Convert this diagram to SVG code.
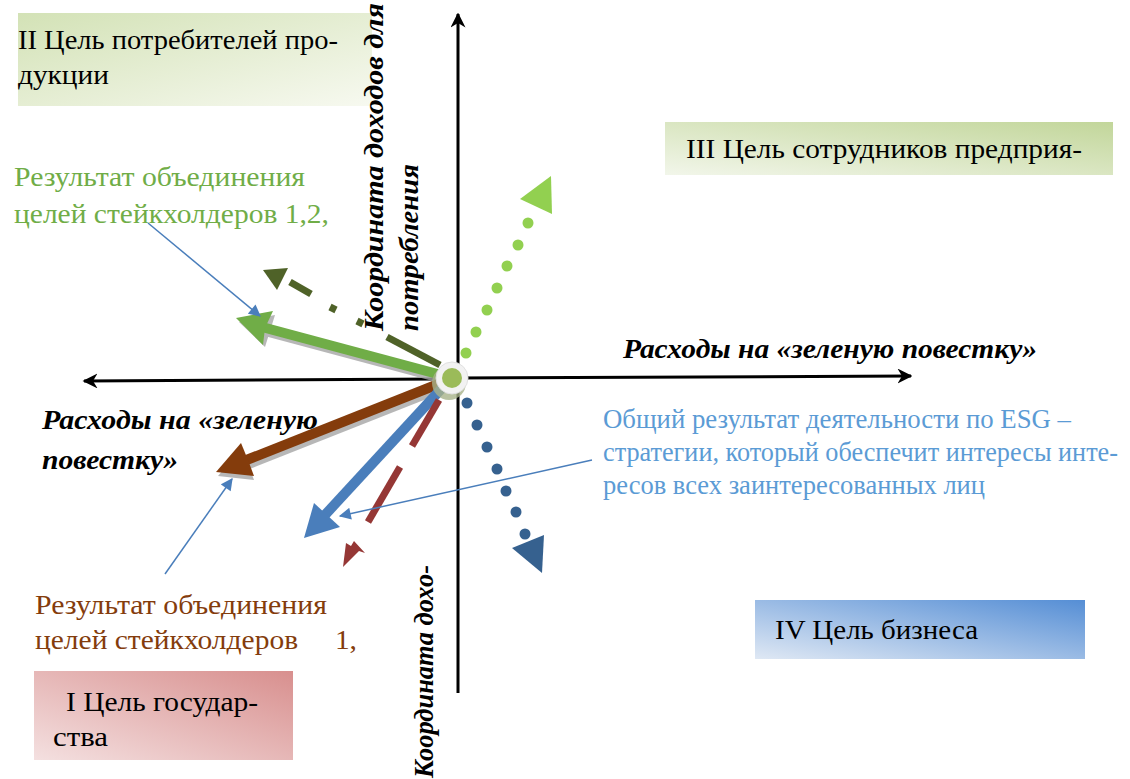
<svg xmlns="http://www.w3.org/2000/svg" width="1130" height="779" viewBox="0 0 1130 779">
<defs>
<linearGradient id="gII" x1="0" y1="0" x2="1" y2="1"><stop offset="0" stop-color="#d3e2b6"/><stop offset="1" stop-color="#f7f9f0"/></linearGradient>
<linearGradient id="gIII" x1="0" y1="1" x2="1" y2="0"><stop offset="0" stop-color="#f2f6ea"/><stop offset="1" stop-color="#c2d69a"/></linearGradient>
<linearGradient id="gI" x1="0" y1="1" x2="1" y2="0"><stop offset="0" stop-color="#f4e0e0"/><stop offset="1" stop-color="#d88f8e"/></linearGradient>
<linearGradient id="gIV" x1="0" y1="1" x2="1" y2="0"><stop offset="0" stop-color="#dfe8f4"/><stop offset="1" stop-color="#558ed5"/></linearGradient>
<marker id="ax" viewBox="0 0 10 10" refX="9" refY="5" markerWidth="5" markerHeight="5" orient="auto" markerUnits="strokeWidth"><path d="M0,0 L10,5 L0,10 L3,5 Z" fill="#000"/></marker>
<marker id="thin" viewBox="0 0 10 10" refX="9" refY="5" markerWidth="9" markerHeight="8" orient="auto" markerUnits="strokeWidth"><path d="M0,0 L10,5 L0,10 Z" fill="#4a7ebb"/></marker>
</defs>
<style>
.t{font-family:"Liberation Serif","Times New Roman",serif;font-size:28px;fill:#000}
.b{font-family:"Liberation Serif","Times New Roman",serif;font-size:26.5px;fill:#5b9bd5}
.bi{font-family:"Liberation Serif","Times New Roman",serif;font-size:28px;font-weight:bold;font-style:italic;fill:#000}
.g{fill:#70ad47}
.br{fill:#843c0c}
.axis{stroke:#000;stroke-width:3;fill:none}
.thin{stroke:#4a7ebb;stroke-width:1.5;fill:none}
.sh{fill:#a6a6a6;stroke:#a6a6a6;opacity:0.8}
</style>
<rect width="1130" height="779" fill="#fff"/>

<g id="boxII"><rect x="18" y="13" width="354" height="93" fill="url(#gII)"/>
<text class="t" x="18" y="49" textLength="320" lengthAdjust="spacingAndGlyphs">II Цель потребителей про-</text><text class="t" x="18" y="84" textLength="91" lengthAdjust="spacingAndGlyphs">дукции</text></g>
<g id="boxIII"><rect x="665" y="122" width="448" height="53" fill="url(#gIII)"/>
<text class="t" x="686" y="158" textLength="396" lengthAdjust="spacingAndGlyphs">III Цель сотрудников предприя-</text></g>
<g id="boxI"><rect x="34" y="671" width="259" height="89" fill="url(#gI)"/>
<text class="t" x="66" y="711" textLength="192" lengthAdjust="spacingAndGlyphs">I Цель государ-</text><text class="t" x="53" y="746" textLength="55" lengthAdjust="spacingAndGlyphs">ства</text></g>
<g id="boxIV"><rect x="755" y="600" width="330" height="59" fill="url(#gIV)"/>
<text class="t" x="775" y="639" textLength="203" lengthAdjust="spacingAndGlyphs">IV Цель бизнеса</text></g>

<g id="axes">
<line class="axis" x1="458" y1="693" x2="458" y2="14" marker-end="url(#ax)"/>
<line class="axis" x1="440" y1="379" x2="84" y2="381" marker-end="url(#ax)"/>
<line class="axis" x1="458" y1="378" x2="911" y2="376" marker-end="url(#ax)"/>
</g>

<g id="connectors">
<g stroke="#4f6228" stroke-width="7" fill="#4f6228">
<line x1="440" y1="365" x2="387" y2="337"/>
<line x1="363" y1="324" x2="357" y2="321"/>
<line x1="336" y1="310" x2="330" y2="307"/>
<line x1="311" y1="294" x2="290" y2="282"/>
<polygon points="263,270 288,268 277,290" stroke="none"/>
</g>
<g transform="translate(3,4)" class="sh"><line x1="445" y1="376" x2="262" y2="327" stroke-width="10"/><polygon points="236,318 272,311 262,343" stroke="none"/></g>
<line x1="445" y1="376" x2="262" y2="327" stroke="#70ad47" stroke-width="10"/>
<polygon points="236,318 273,311 265,328 263,345" fill="#70ad47"/>
<g transform="translate(2,4)" class="sh"><line x1="446" y1="381" x2="244" y2="461" stroke-width="10"/><polygon points="216,472 240,444 252,476" stroke="none"/></g>
<line x1="446" y1="381" x2="244" y2="461" stroke="#843c0c" stroke-width="10"/>
<polygon points="216,472 241,443 248,460 254,476" fill="#843c0c"/>
<line x1="443" y1="387" x2="324" y2="516" stroke="#4a7ebb" stroke-width="10"/>
<polygon points="304,538 314,503 327,515 340,527" fill="#4a7ebb"/>
<g stroke="#953735" stroke-width="7">
<line x1="439" y1="400" x2="412" y2="446"/>
<line x1="400" y1="467" x2="368" y2="522"/>
</g>
<polygon points="343,567 346,543 351,546 354,541 365,553 359,551" fill="#953735"/>
<g fill="#92d050">
<circle cx="466" cy="353" r="5.5"/><circle cx="476" cy="332" r="5.5"/><circle cx="487" cy="310" r="5.5"/><circle cx="497" cy="288" r="5.5"/><circle cx="507" cy="266" r="5.5"/><circle cx="518" cy="245" r="5.5"/><circle cx="528" cy="223" r="5.5"/>
<polygon points="520,199 551,176 552,214"/>
</g>
<g fill="#36618f">
<circle cx="467" cy="403" r="5.5"/><circle cx="477" cy="425" r="5.5"/><circle cx="487" cy="447" r="5.5"/><circle cx="497" cy="469" r="5.5"/><circle cx="506" cy="491" r="5.5"/><circle cx="516" cy="512" r="5.5"/><circle cx="525" cy="534" r="5.5"/>
<polygon points="512,548 544,535 542,573"/>
</g>
<line class="thin" x1="148" y1="223" x2="260" y2="316" marker-end="url(#thin)"/>
<line class="thin" x1="165" y1="574" x2="232" y2="479" marker-end="url(#thin)"/>
<line class="thin" x1="592" y1="460" x2="340" y2="516" marker-end="url(#thin)"/>
</g>

<g id="center">
<circle cx="449" cy="383" r="17" fill="#a8b38a" opacity="0.8"/>
<circle cx="452" cy="378" r="16" fill="#f2f2f2" stroke="#e0e0e0" stroke-width="1"/>
<circle cx="452" cy="378" r="10" fill="#9bbb59"/>
</g>

<g id="labels">
<text class="t g" x="14" y="186" textLength="291" lengthAdjust="spacingAndGlyphs">Результат объединения</text>
<text class="t g" x="14" y="223" textLength="315" lengthAdjust="spacingAndGlyphs">целей стейкхолдеров 1,2,</text>
<text class="t br" x="35" y="614" textLength="292" lengthAdjust="spacingAndGlyphs">Результат объединения</text>
<text class="t br" x="35" y="649" xml:space="preserve" textLength="322" lengthAdjust="spacingAndGlyphs">целей стейкхолдеров     1,</text>
<text class="b" x="603" y="428" textLength="468" lengthAdjust="spacingAndGlyphs">Общий результат деятельности по ESG –</text>
<text class="b" x="603" y="461" textLength="515" lengthAdjust="spacingAndGlyphs">стратегии, который обеспечит интересы инте-</text>
<text class="b" x="603" y="494" textLength="382" lengthAdjust="spacingAndGlyphs">ресов всех заинтересованных лиц</text>
<text class="bi" x="623" y="358" textLength="414" lengthAdjust="spacingAndGlyphs">Расходы на «зеленую повестку»</text>
<text class="bi" x="42" y="429" textLength="276" lengthAdjust="spacingAndGlyphs">Расходы на «зеленую</text>
<text class="bi" x="42" y="469" textLength="136" lengthAdjust="spacingAndGlyphs">повестку»</text>
<text class="bi" transform="translate(383,331) rotate(-90)" textLength="328" lengthAdjust="spacingAndGlyphs">Координата доходов для</text>
<text class="bi" transform="translate(418,331) rotate(-90)" textLength="167" lengthAdjust="spacingAndGlyphs">потребления</text>
<text class="bi" transform="translate(433,778) rotate(-90)" textLength="213" lengthAdjust="spacingAndGlyphs">Координата  дохо-</text>
</g>
</svg>
